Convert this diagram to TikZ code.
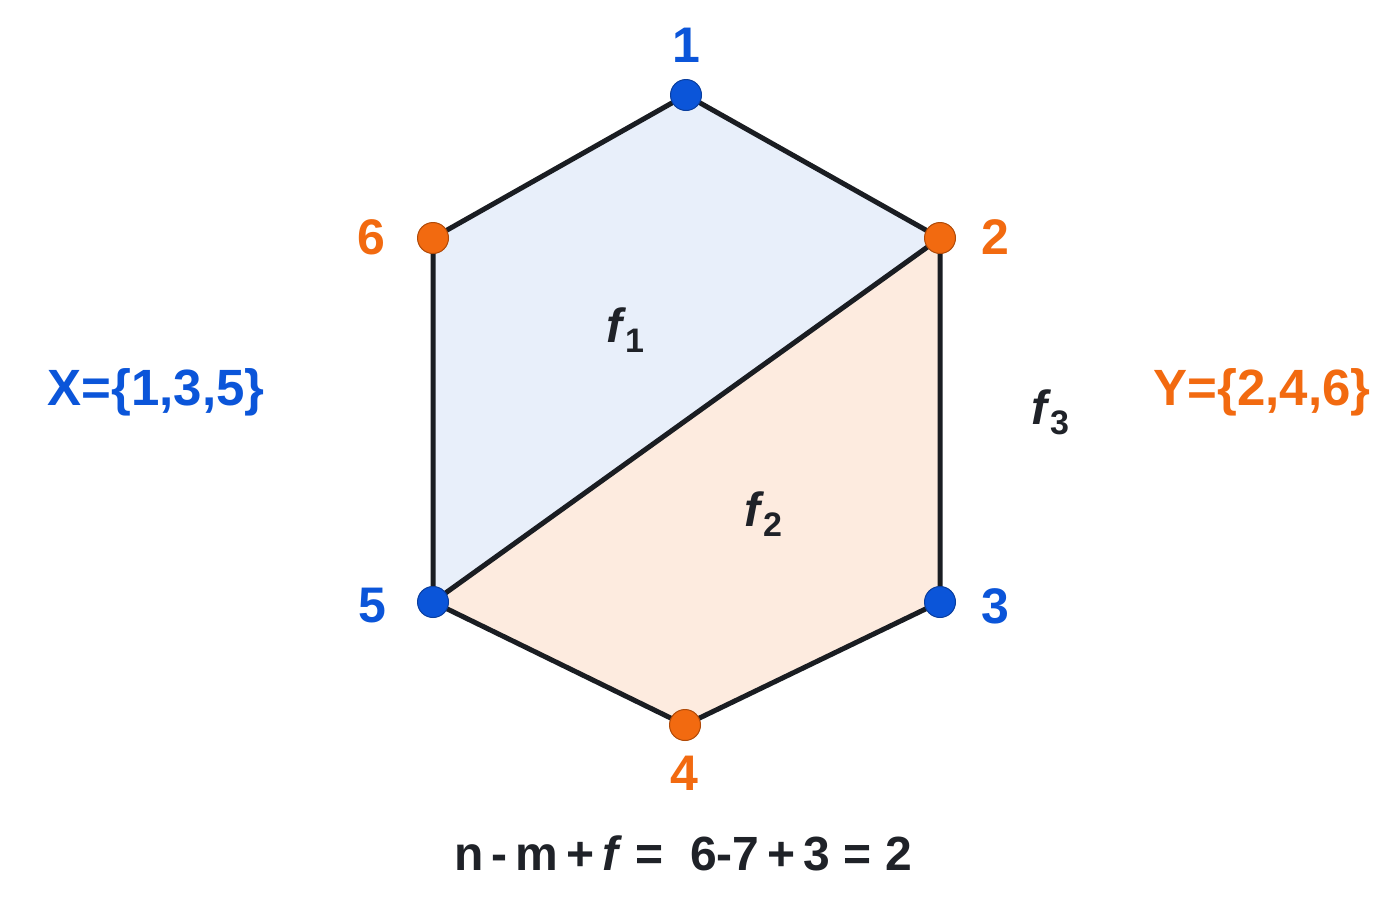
\documentclass[tikz,border=0pt]{standalone}
\usepackage{fontspec}
\setmainfont{Liberation Sans}
\definecolor{vblue}{HTML}{0B55D9}
\definecolor{vorange}{HTML}{F26A10}
\definecolor{vblueD}{HTML}{0A3E9E}
\definecolor{vorangeD}{HTML}{B04A08}
\definecolor{fblue}{HTML}{E8EFFA}
\definecolor{forange}{HTML}{FDEBDF}
\definecolor{edgec}{HTML}{1A1D22}
\definecolor{txt}{HTML}{1F2228}
\pgfdeclarelayer{paper}
\pgfdeclarelayer{background}
\pgfsetlayers{paper,background,main}
\newcommand{\fsub}[1]{\textit{f}\kern-1pt\raisebox{-10pt}{\fontsize{34}{34}\selectfont #1}}
\tikzset{
  vtx/.style={circle, minimum size=31pt, inner sep=0pt, line width=1pt},
  bv/.style={vtx, fill=vblue, draw=vblueD},
  ov/.style={vtx, fill=vorange, draw=vorangeD},
  edge/.style={draw=edgec, line width=5pt, line cap=round},
  numlab/.style={font=\fontsize{50}{50}\selectfont\bfseries, inner sep=0pt},
  flab/.style={font=\fontsize{48}{48}\selectfont\bfseries, text=txt, inner sep=0pt},
  setlab/.style={font=\fontsize{51}{51}\selectfont\bfseries, inner sep=0pt}
}
\begin{document}
\begin{tikzpicture}[x=1pt,y=-1pt]
\begin{pgfonlayer}{paper}
\fill[white] (0,0) rectangle (1400,900);
\end{pgfonlayer}
\useasboundingbox (0,0) rectangle (1400,900);
% vertices
\node[bv] (v1) at (686,95) {};
\node[ov] (v2) at (940,238) {};
\node[bv] (v3) at (940,602) {};
\node[ov] (v4) at (685,725) {};
\node[bv] (v5) at (433,602) {};
\node[ov] (v6) at (433,238) {};
\begin{pgfonlayer}{background}
% faces
\fill[fblue] (v1.center) -- (v2.center) -- (v5.center) -- (v6.center) -- cycle;
\fill[forange] (v2.center) -- (v3.center) -- (v4.center) -- (v5.center) -- cycle;
% edges
\draw[edge] (v1.center) -- (v2.center) -- (v3.center) -- (v4.center) -- (v5.center) -- (v6.center) -- cycle;
\draw[edge] (v2.center) -- (v5.center);
\end{pgfonlayer}
% vertex labels
\node[numlab, text=vblue] (l1) at (686,45) {1};
\node[numlab, text=vorange] (l2) at (995,237) {2};
\node[numlab, text=vblue] (l3) at (995,606) {3};
\node[numlab, text=vorange] (l4) at (684,773) {4};
\node[numlab, text=vblue] (l5) at (372,606) {5};
\node[numlab, text=vorange] (l6) at (371,237) {6};
% face labels
\node[flab] (f1) at (625,330) {\fsub{1}};
\node[flab] (f2) at (763,514) {\fsub{2}};
\node[flab] (f3) at (1050,412) {\fsub{3}};
% set labels
\node[setlab, text=vblue] (X) at (156,392) {X=\{1,3,5\}};
\node[setlab, text=vorange] (Y) at (1262,392) {Y=\{2,4,6\}};
% formula
\node[flab] (eq) at (683,853) {n\,-\,m\,+\,\textit{f} =\ \ 6-7\,+\,3 = 2};
\end{tikzpicture}
\end{document}
